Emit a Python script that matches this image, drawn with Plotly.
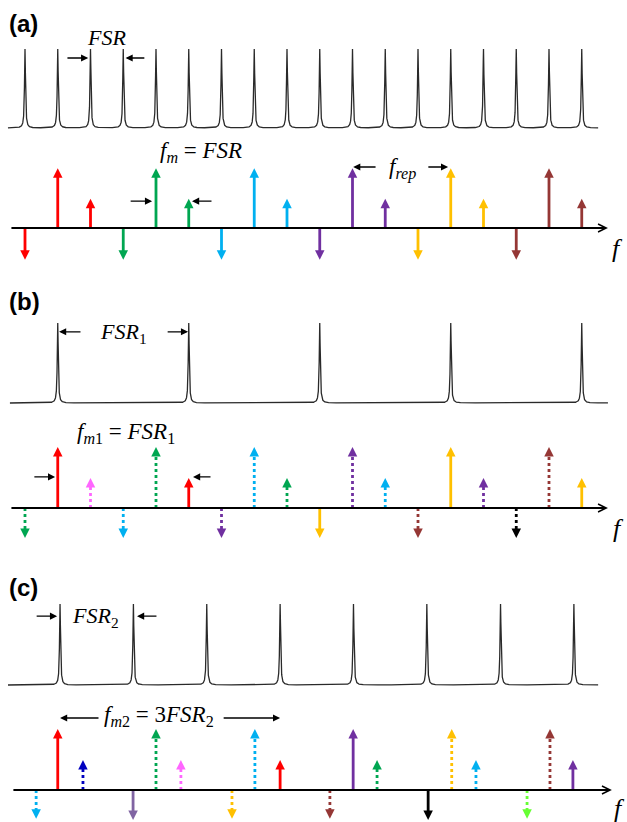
import numpy as np
import plotly.graph_objects as go

W, H = 627, 822
PX0, PXU = 25.0, 32.75          # pixel of f=0 and pixels per FSR unit (x axis mapping)

COL = dict(red="#ff0000", green="#00a651", blue="#00b0f0", purple="#7030a0",
           yellow="#ffc000", brown="#953735", pink="#ff66ff", navy="#0000c0",
           lilac="#8064a2", black="#000000", lime="#66ff33")

# ---------------- data (frequencies in units of FSR of panel a) ----------------
res_a = list(range(18))
res_b = [1, 5, 9, 13, 17]
res_c = [1.07, 3.31, 5.55, 7.79, 10.03, 12.27, 14.52, 16.76]

a_pos = list(range(18))
a_amp = [-0.52, 0.98, 0.48] * 6
a_col = ["red"] * 3 + ["green"] * 3 + ["blue"] * 3 + ["purple"] * 3 + ["yellow"] * 3 + ["brown"] * 3
a_sty = ["solid"] * 18

b_pos = list(range(18))
b_amp = [-0.49, 1.0, 0.49] * 6
b_col = ["green", "red", "pink", "blue", "green", "red", "purple", "blue", "green",
         "yellow", "purple", "blue", "brown", "yellow", "purple", "black", "brown", "yellow"]
b_sty = ["dot", "solid", "dot", "dot", "dot", "solid", "dot", "dot", "dot",
         "solid", "dot", "dot", "dot", "solid", "dot", "dot", "dot", "solid"]

c_pos = [0.34, 1, 1.77, 3.30, 4, 4.76, 6.32, 7.02, 7.79, 9.31, 10.02, 10.75,
         12.31, 13.03, 13.77, 15.33, 16.03, 16.73]
c_amp = [-0.47, 1.0, 0.49, -0.49, 1.0, 0.49, -0.47, 1.0, 0.49, -0.47, 1.0, 0.49,
         -0.49, 1.0, 0.49, -0.47, 1.0, 0.49]
c_col = ["blue", "red", "navy", "lilac", "green", "pink", "yellow", "blue", "red",
         "brown", "purple", "green", "black", "yellow", "blue", "lime", "brown", "purple"]
c_sty = ["dot", "solid", "dot", "solid", "dot", "dot", "dot", "dot", "solid",
         "dot", "solid", "dot", "solid", "dot", "dot", "dot", "dot", "solid"]

LINEWIDTH = 0.018   # resonance half width (FSR units)

fig = go.Figure()


def ydom(p0, s, vmin, vmax):
    return [1 - (p0 - s * vmin) / H, 1 - (p0 - s * vmax) / H]


def spectrum(res, x0, x1, yref):
    x = np.linspace(x0, x1, 24000)
    x = np.sort(np.concatenate([x, np.array(res, float)]))
    y = np.zeros_like(x)
    for r in res:
        y += 1.0 / (1.0 + ((x - r) / LINEWIDTH) ** 2)
    fig.add_trace(go.Scatter(x=x, y=y, mode="lines", yaxis=yref,
                             line=dict(color="#2a2a2a", width=1.3), hoverinfo="skip"))


def comb(pos, amp, col, sty, yref):
    groups = {}
    for p, a, c, s in zip(pos, amp, col, sty):
        xs, ys = groups.setdefault((c, s), ([], []))
        head = 0.1 if a > 0 else -0.1
        xs += [p, p, None]
        ys += [0, a - head, None]
    for (c, s), (xs, ys) in groups.items():
        fig.add_trace(go.Scatter(x=xs, y=ys, mode="lines", yaxis=yref, hoverinfo="skip",
                                 line=dict(color=COL[c], width=2.8, dash=s)))
    fig.add_trace(go.Scatter(
        x=pos, y=amp, mode="markers", yaxis=yref, hoverinfo="skip", cliponaxis=False,
        marker=dict(symbol=["arrow-up" if a > 0 else "arrow-down" for a in amp],
                    size=9.5, color=[COL[c] for c in col], line=dict(width=0))))


def axis_arrow(yref, x0, x1):
    fig.add_annotation(x=x1, y=0, ax=x0, ay=0, xref="x", yref=yref, axref="x", ayref=yref,
                       text="", showarrow=True, arrowhead=5, arrowwidth=2, arrowsize=0.8,
                       arrowcolor="black")


def small_arrow(yref, xt, xh, y):
    fig.add_annotation(x=xh, y=y, ax=xt, ay=y, xref="x", yref=yref, axref="x", ayref=yref,
                       text="", showarrow=True, arrowhead=2, arrowwidth=1.3, arrowsize=1.1,
                       arrowcolor="black")


def label(yref, x, y, txt, size=22):
    fig.add_annotation(x=x, y=y, xref="x", yref=yref, text=txt, showarrow=False,
                       font=dict(family="Liberation Serif", size=size, color="black"))


# ---------------- panel (a) ----------------
spectrum(res_a, -0.52, 17.5, "y")
comb(a_pos, a_amp, a_col, a_sty, "y2")
axis_arrow("y2", -0.46, 17.8)
label("y", 2.5, 1.14, "<i>FSR</i>")
small_arrow("y", 1.25, 1.93, 0.886)
small_arrow("y", 3.69, 3.07, 0.886)
label("y2", 5.37, 1.25, "<i>f</i><sub><i>m</i></sub> = <i>FSR</i>", 23)
small_arrow("y2", 3.18, 3.88, 0.44)
small_arrow("y2", 5.74, 5.10, 0.44)
label("y2", 11.54, 0.98, "<i>f</i><sub><i>rep</i></sub>", 23)
small_arrow("y2", 10.75, 10.02, 1.0)
small_arrow("y2", 12.27, 12.92, 1.0)
label("y2", 18.1, -0.34, "<i>f</i>", 26)

# ---------------- panel (b) ----------------
spectrum(res_b, -0.46, 17.8, "y3")
comb(b_pos, b_amp, b_col, b_sty, "y4")
axis_arrow("y4", -0.46, 17.8)
label("y3", 3.02, 0.875, "<i>FSR</i><sub>1</sub>")
small_arrow("y3", 1.74, 1.04, 0.89)
small_arrow("y3", 4.31, 4.98, 0.89)
label("y4", 3.08, 1.23, "<i>f</i><sub><i>m</i>1</sub> = <i>FSR</i><sub>1</sub>", 23)
small_arrow("y4", 0.24, 0.92, 0.51)
small_arrow("y4", 5.71, 5.13, 0.51)
label("y4", 18.13, -0.34, "<i>f</i>", 26)

# ---------------- panel (c) ----------------
spectrum(res_c, -0.52, 17.5, "y5")
comb(c_pos, c_amp, c_col, c_sty, "y6")
axis_arrow("y6", -0.4, 17.92)
label("y5", 2.14, 0.84, "<i>FSR</i><sub>2</sub>")
small_arrow("y5", 0.31, 0.98, 0.85)
small_arrow("y5", 4.06, 3.42, 0.85)
label("y6", 4.09, 1.21, "<i>f</i><sub><i>m</i>2</sub> = 3<i>FSR</i><sub>2</sub>", 23)
small_arrow("y6", 2.29, 1.07, 1.18)
small_arrow("y6", 6.02, 7.79, 1.18)
label("y6", 18.16, -0.3, "<i>f</i>", 26)

# panel letters
for txt, py in [("(a)", 24), ("(b)", 301), ("(c)", 587)]:
    fig.add_annotation(x=7 / W, y=1 - py / H, xref="paper", yref="paper", xanchor="left",
                       yanchor="middle", text="<b>%s</b>" % txt, showarrow=False,
                       font=dict(family="Liberation Sans", size=24, color="black"))

yax = dict(visible=False, fixedrange=True)
fig.update_layout(
    width=W, height=H, margin=dict(l=0, r=0, t=0, b=0), showlegend=False,
    paper_bgcolor="white", plot_bgcolor="rgba(0,0,0,0)",
    xaxis=dict(range=[-PX0 / PXU, (W - PX0) / PXU], visible=False, domain=[0, 1], fixedrange=True),
    yaxis=dict(range=[-0.15, 1.3], domain=ydom(128, 79, -0.15, 1.3), anchor="x", **yax),
    yaxis2=dict(range=[-0.75, 1.3], domain=ydom(228, 61, -0.75, 1.3), anchor="x", **yax),
    yaxis3=dict(range=[-0.15, 1.3], domain=ydom(403, 80, -0.15, 1.3), anchor="x", **yax),
    yaxis4=dict(range=[-0.75, 1.3], domain=ydom(508, 61, -0.75, 1.3), anchor="x", **yax),
    yaxis5=dict(range=[-0.15, 1.3], domain=ydom(685, 81, -0.15, 1.3), anchor="x", **yax),
    yaxis6=dict(range=[-0.5, 1.3], domain=ydom(790, 61, -0.5, 1.3), anchor="x", **yax),
)

fig.write_html("out.html", config={"displayModeBar": False},
               post_script="document.body.style.margin='0px';document.body.style.padding='0px';")
